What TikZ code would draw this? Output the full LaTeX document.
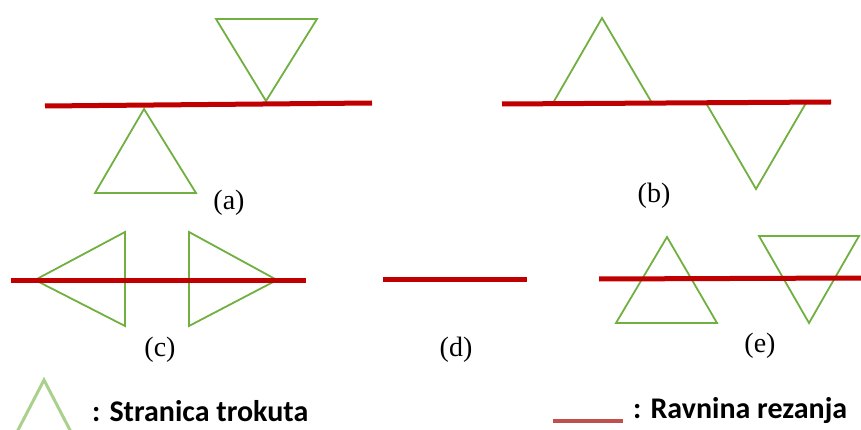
\documentclass[tikz,border=0pt]{standalone}
\usepackage{fontspec}
\setmainfont{Liberation Serif}
\newfontfamily\legendfont{Carlito}
\definecolor{cutred}{HTML}{C00000}
\definecolor{trigreen}{HTML}{70B040}
\definecolor{legred}{HTML}{C0504D}
\definecolor{leggreen}{HTML}{A9D18E}
\begin{document}
\begin{tikzpicture}[x=1pt,y=-1pt,
  cutline/.style={draw=cutred,line width=5pt},
  tri/.style={draw=trigreen,line width=1.8pt,line join=miter},
  lab/.style={font=\fontsize{28}{30}\selectfont,inner sep=0pt},
  legtext/.style={font=\legendfont\bfseries\fontsize{30}{32}\selectfont,anchor=base west,inner sep=0pt}]
\useasboundingbox (0,0) rectangle (861,430);
% (a)
\draw[tri] (216,19) -- (317,19) -- (266,101) -- cycle;
\draw[tri] (144,109) -- (196,193) -- (95,193) -- cycle;
\coordinate (a1) at (45,106); \coordinate (a2) at (372,103);
\draw[cutline] (a1) -- (a2);
\node[lab] (la) at (229,203) {(a)};
% (b)
\draw[tri] (602,18) -- (652,103) -- (553,103) -- cycle;
\draw[tri] (706,103) -- (806,103) -- (756,189) -- cycle;
\coordinate (b1) at (502,104); \coordinate (b2) at (831,102);
\draw[cutline] (b1) -- (b2);
\node[lab] (lb) at (654,196) {(b)};
% (c)
\draw[tri] (35,280) -- (125,232) -- (125,326) -- cycle;
\draw[tri] (189,232) -- (277,280) -- (189,326) -- cycle;
\coordinate (c1) at (11,280); \coordinate (c2) at (306,280);
\draw[cutline] (c1) -- (c2);
\node[lab] (lc) at (160,350) {(c)};
% (d)
\coordinate (d1) at (383,279); \coordinate (d2) at (527,279);
\draw[cutline] (d1) -- (d2);
\node[lab] (ld) at (456,350) {(d)};
% (e)
\draw[tri] (667,237) -- (717,323) -- (616,323) -- cycle;
\draw[tri] (759,236) -- (859,236) -- (809,323) -- cycle;
\coordinate (e1) at (599,279); \coordinate (e2) at (861,278);
\draw[cutline] (e1) -- (e2);
\node[lab] (le) at (760,346) {(e)};
% legend
\draw[draw=leggreen,line width=3pt] (17,432) -- (44,380) -- (71,432);
\node[legtext] (lt1) at (92,421) {: Stranica trokuta};
\coordinate (r1) at (553,421); \coordinate (r2) at (623,421);
\draw[draw=legred,line width=4pt] (r1) -- (r2);
\node[legtext] (lt2) at (633,418) {: Ravnina rezanja};
\end{tikzpicture}
\end{document}
